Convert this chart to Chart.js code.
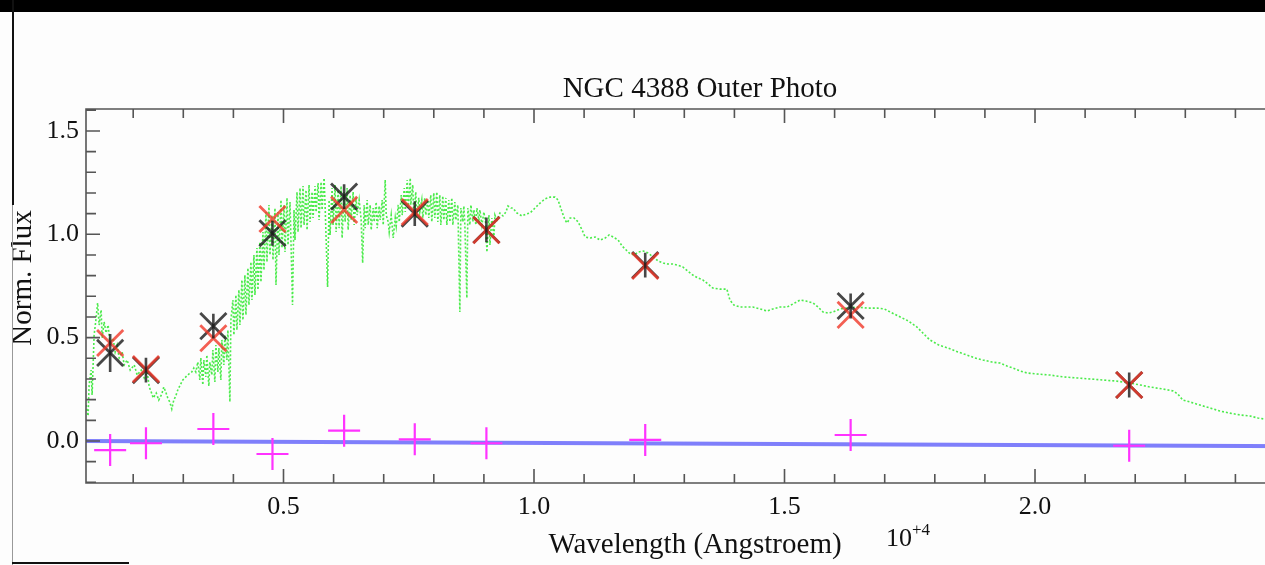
<!DOCTYPE html>
<html>
<head>
<meta charset="utf-8">
<title>NGC 4388 Outer Photo</title>
<script src="https://cdn.jsdelivr.net/npm/chart.js"></script>
<style>
  html, body { margin: 0; padding: 0; background: #fdfdfd; overflow: hidden; }
  #wrap { position: relative; width: 1265px; height: 565px; overflow: hidden; }
  #c { position: absolute; left: 0; top: 0; }
  .bar { position: absolute; left: 0; top: 0; width: 1265px; height: 12px; background: #000; z-index: 2; }
  .vline1 { position: absolute; left: 12px; top: 0; width: 2px; height: 205px; background: #111; z-index: 2; }
  .vline2 { position: absolute; left: 12px; top: 205px; width: 1px; height: 360px; background: #999; z-index: 2; }
  .hline { position: absolute; left: 12px; top: 562px; width: 117px; height: 2px; background: #111; z-index: 2; }
</style>
</head>
<body>
<div id="wrap">
  <canvas id="c" width="1400" height="565"></canvas>
  <div class="bar"></div>
  <div class="vline1"></div>
  <div class="vline2"></div>
  <div class="hline"></div>
</div>
<script>
// photometric bands (wavelength in 1e4 Angstroem)
var bandWave  = [0.154, 0.2255, 0.360, 0.478, 0.621, 0.762, 0.905, 1.222, 1.632, 2.188];
var obsFlux   = [0.426, 0.343, 0.556, 1.005, 1.182, 1.100, 1.021, 0.851, 0.653, 0.271];
var obsErr    = [0.092, 0.060, 0.060, 0.060, 0.060, 0.060, 0.060, 0.060, 0.060, 0.060];
var modelFlux = [0.474, 0.348, 0.497, 1.074, 1.118, 1.108, 1.020, 0.847, 0.610, 0.271];
var residFlux = [-0.044, -0.011, 0.058, -0.063, 0.050, 0.008, -0.011, 0.005, 0.029, -0.023];

// zero / fit line for the residuals
var fitWave = [0.10, 2.55];
var fitFlux = [0.000, -0.025];

// tick labels
var xMajor = [0.5, 1.0, 1.5, 2.0];
var yMajor = [0.0, 0.5, 1.0, 1.5];

// best fit model spectrum [wavelength, flux]
var spectrum = [
  [0.106,0.174],[0.110,0.121],[0.112,0.271],[0.116,0.343],[0.118,0.223],[0.122,0.513],[0.126,0.595],[0.129,0.668],[0.132,0.561],[0.136,0.634],
  [0.138,0.498],[0.142,0.576],[0.146,0.523],[0.150,0.561],[0.154,0.464],[0.160,0.498],[0.164,0.431],[0.168,0.464],[0.172,0.402],[0.178,0.431],
  [0.182,0.368],[0.188,0.392],[0.194,0.343],[0.202,0.368],[0.208,0.319],[0.216,0.343],[0.222,0.305],[0.228,0.334],[0.232,0.261],[0.236,0.237],
  [0.240,0.208],[0.246,0.232],[0.251,0.198],[0.257,0.227],[0.261,0.261],[0.265,0.237],[0.269,0.208],[0.273,0.189],[0.277,0.155],[0.281,0.198],
  [0.285,0.218],[0.289,0.247],[0.295,0.276],[0.299,0.295],[0.305,0.310],[0.311,0.324],[0.317,0.334],[0.321,0.353],[0.325,0.334],[0.329,0.382],
  [0.333,0.295],[0.335,0.402],[0.339,0.271],[0.341,0.392],[0.345,0.310],[0.347,0.416],[0.351,0.266],[0.353,0.382],[0.357,0.319],[0.359,0.440],
  [0.363,0.286],[0.365,0.464],[0.369,0.334],[0.371,0.450],[0.375,0.295],[0.377,0.489],[0.381,0.368],[0.383,0.513],[0.387,0.392],[0.389,0.537],
  [0.393,0.189],[0.395,0.585],[0.399,0.682],[0.401,0.513],[0.405,0.706],[0.407,0.537],[0.411,0.731],[0.413,0.561],[0.417,0.779],[0.419,0.585],
  [0.423,0.803],[0.425,0.610],[0.429,0.837],[0.431,0.658],[0.435,0.866],[0.437,0.682],[0.441,0.900],[0.443,0.706],[0.447,0.934],[0.449,0.731],
  [0.453,0.963],[0.455,0.769],[0.459,1.011],[0.461,0.827],[0.465,1.108],[0.467,0.866],[0.471,1.142],[0.473,0.900],[0.477,1.093],[0.479,0.876],
  [0.483,1.127],[0.485,0.755],[0.489,1.108],[0.491,0.900],[0.495,1.166],[0.497,0.934],[0.501,1.142],[0.503,0.914],[0.507,1.176],[0.509,0.948],
  [0.513,1.156],[0.518,0.658],[0.521,1.118],[0.523,0.972],[0.527,1.205],[0.529,1.011],[0.533,1.224],[0.535,1.030],[0.539,1.234],[0.541,1.045],
  [0.545,1.214],[0.547,1.021],[0.551,1.239],[0.553,1.060],[0.557,1.205],[0.559,1.079],[0.563,1.234],[0.565,1.108],[0.569,1.248],[0.571,1.069],
  [0.575,1.253],[0.577,1.118],[0.581,1.272],[0.583,1.142],[0.588,0.745],[0.591,1.166],[0.593,0.997],[0.597,1.224],[0.599,1.045],[0.603,1.239],
  [0.605,1.011],[0.609,1.214],[0.611,1.030],[0.615,1.234],[0.617,0.982],[0.621,1.205],[0.623,1.060],[0.627,1.224],[0.629,1.021],[0.633,1.190],
  [0.635,1.069],[0.639,1.205],[0.641,1.045],[0.645,1.176],[0.647,1.093],[0.651,1.166],[0.655,1.069],[0.658,0.861],[0.661,1.142],[0.663,1.030],
  [0.667,1.166],[0.669,1.045],[0.673,1.142],[0.675,1.021],[0.679,1.127],[0.681,1.060],[0.685,1.156],[0.687,1.030],[0.691,1.137],[0.693,1.069],
  [0.697,1.166],[0.699,1.045],[0.703,1.263],[0.705,1.093],[0.709,1.060],[0.711,1.011],[0.715,1.093],[0.719,0.982],[0.723,1.079],[0.725,1.040],
  [0.729,1.142],[0.731,1.060],[0.735,1.190],[0.737,1.093],[0.741,1.224],[0.743,1.108],[0.747,1.263],[0.749,1.127],[0.753,1.272],[0.754,1.142],
  [0.758,1.239],[0.760,1.093],[0.764,1.205],[0.766,1.079],[0.770,1.176],[0.772,1.108],[0.776,1.166],[0.778,1.079],[0.782,1.176],[0.784,1.093],
  [0.788,1.166],[0.790,1.079],[0.794,1.190],[0.796,1.060],[0.800,1.200],[0.802,1.079],[0.806,1.205],[0.808,1.060],[0.812,1.190],[0.814,1.045],
  [0.818,1.185],[0.820,1.069],[0.824,1.176],[0.826,1.045],[0.830,1.166],[0.832,1.060],[0.836,1.176],[0.838,1.045],[0.842,1.156],[0.844,1.069],
  [0.848,1.142],[0.852,0.624],[0.854,1.127],[0.858,1.060],[0.860,1.137],[0.862,1.045],[0.866,0.692],[0.868,1.127],[0.872,1.045],[0.874,1.142],
  [0.878,1.060],[0.880,1.118],[0.884,1.045],[0.886,1.127],[0.890,1.069],[0.892,1.118],[0.896,1.045],[0.900,1.108],[0.904,1.045],[0.906,0.914],
  [0.910,1.093],[0.912,0.948],[0.916,1.079],[0.920,0.982],[0.922,1.093],[0.926,1.069],[0.932,1.103],[0.938,1.089],[0.944,1.108],[0.948,1.137],
  [0.954,1.127],[0.958,1.127],[0.966,1.103],[0.976,1.089],[0.984,1.098],[0.992,1.103],[1.002,1.127],[1.012,1.151],[1.022,1.171],[1.032,1.180],
  [1.042,1.180],[1.048,1.166],[1.056,1.108],[1.062,1.069],[1.066,1.055],[1.072,1.079],[1.080,1.079],[1.088,1.060],[1.096,1.021],[1.102,0.987],
  [1.112,0.982],[1.122,0.987],[1.132,0.972],[1.142,0.982],[1.150,0.997],[1.158,0.987],[1.168,0.972],[1.176,0.943],[1.184,0.924],[1.192,0.905],
  [1.200,0.900],[1.208,0.914],[1.218,0.919],[1.228,0.909],[1.238,0.890],[1.248,0.871],[1.258,0.861],[1.267,0.856],[1.277,0.856],[1.287,0.851],
  [1.297,0.842],[1.307,0.822],[1.317,0.803],[1.327,0.789],[1.337,0.779],[1.347,0.760],[1.357,0.740],[1.371,0.735],[1.385,0.735],[1.391,0.682],
  [1.399,0.658],[1.411,0.648],[1.425,0.648],[1.437,0.648],[1.451,0.639],[1.465,0.629],[1.477,0.639],[1.491,0.648],[1.505,0.648],[1.517,0.663],
  [1.531,0.682],[1.543,0.677],[1.557,0.668],[1.567,0.648],[1.577,0.624],[1.587,0.619],[1.597,0.624],[1.611,0.639],[1.625,0.643],[1.645,0.648],
  [1.665,0.643],[1.685,0.643],[1.699,0.639],[1.711,0.624],[1.731,0.600],[1.747,0.581],[1.764,0.552],[1.778,0.518],[1.790,0.489],[1.808,0.464],
  [1.826,0.450],[1.846,0.431],[1.864,0.416],[1.880,0.402],[1.896,0.392],[1.914,0.382],[1.930,0.377],[1.944,0.363],[1.956,0.353],[1.970,0.339],
  [1.984,0.329],[2.004,0.324],[2.030,0.319],[2.056,0.310],[2.084,0.305],[2.110,0.300],[2.136,0.295],[2.162,0.290],[2.188,0.281],[2.210,0.271],
  [2.230,0.261],[2.254,0.252],[2.276,0.242],[2.285,0.227],[2.295,0.198],[2.309,0.189],[2.329,0.174],[2.349,0.160],[2.369,0.145],[2.389,0.135],
  [2.409,0.126],[2.429,0.121],[2.445,0.111],[2.469,0.102],[2.509,0.082],[2.537,0.068]
];

var FONT = "'Liberation Serif', 'Times New Roman', serif";
var INK = '#111';
var AXIS = '#555';

function pts(xs, ys) {
    return xs.map(function (x, i) { return {x: x, y: ys[i]}; });
}
function isIn(list, v) {
    return list.some(function (m) { return Math.abs(m - v) < 1e-6; });
}

// IDL style frame: box plus inward tick marks on all sides, and the loose texts
var frame = {
    id: 'frame',
    afterDraw: function (chart) {
        var ctx = chart.ctx, a = chart.chartArea, xs = chart.scales.x, ys = chart.scales.y;
        ctx.save();
        ctx.strokeStyle = AXIS;
        ctx.lineWidth = 1.6;
        ctx.beginPath();
        ctx.rect(a.left, a.top, a.right - a.left, a.bottom - a.top);
        xs.ticks.forEach(function (t) {
            var px = xs.getPixelForValue(t.value);
            var len = isIn(xMajor, t.value) ? 14 : 9;
            ctx.moveTo(px, a.bottom); ctx.lineTo(px, a.bottom - len);
            ctx.moveTo(px, a.top); ctx.lineTo(px, a.top + len);
        });
        ys.ticks.forEach(function (t) {
            var py = ys.getPixelForValue(t.value);
            var len = isIn(yMajor, t.value) ? 14 : 10;
            ctx.moveTo(a.left, py); ctx.lineTo(a.left + len, py);
            ctx.moveTo(a.right, py); ctx.lineTo(a.right - len, py);
        });
        ctx.stroke();

        ctx.fillStyle = INK;
        ctx.textBaseline = 'alphabetic';

        // plot title
        ctx.textAlign = 'center';
        ctx.font = "29px " + FONT;
        ctx.fillText('NGC 4388 Outer Photo', 700, 97);

        // y axis title
        ctx.translate(31, 278);
        ctx.rotate(-Math.PI / 2);
        ctx.fillText('Norm. Flux', 0, 0);
        ctx.setTransform(1, 0, 0, 1, 0, 0);

        // axis multiplier 10^+4
        ctx.textAlign = 'left';
        ctx.font = "26px " + FONT;
        ctx.fillText('10', 886, 546);
        ctx.font = "17px " + FONT;
        ctx.fillText('+4', 912, 535);
        ctx.restore();
    }
};

// vertical error bars of the observed fluxes
var errBars = {
    id: 'errBars',
    afterDatasetsDraw: function (chart) {
        var ctx = chart.ctx, xs = chart.scales.x, ys = chart.scales.y;
        ctx.save();
        ctx.strokeStyle = 'rgba(25,25,25,0.8)';
        ctx.lineWidth = 2.6;
        ctx.beginPath();
        bandWave.forEach(function (w, i) {
            var px = xs.getPixelForValue(w);
            ctx.moveTo(px, ys.getPixelForValue(obsFlux[i] - obsErr[i]));
            ctx.lineTo(px, ys.getPixelForValue(obsFlux[i] + obsErr[i]));
        });
        ctx.stroke();
        ctx.restore();
    }
};

new Chart(document.getElementById('c'), {
    type: 'scatter',
    data: {
        datasets: [
            {
                label: 'model spectrum',
                type: 'line',
                data: spectrum.map(function (p) { return {x: p[0], y: p[1]}; }),
                borderColor: 'rgba(30,230,30,0.8)',
                borderWidth: 1.6,
                borderDash: [2, 2],
                pointRadius: 0,
                tension: 0,
                fill: false,
                order: 5
            },
            {
                label: 'zero',
                type: 'line',
                data: pts(fitWave, fitFlux),
                borderColor: 'rgba(95,95,250,0.8)',
                borderWidth: 4,
                pointRadius: 0,
                fill: false,
                order: 4
            },
            {
                label: 'residuals',
                data: pts(bandWave, residFlux),
                pointStyle: 'cross',
                pointRadius: 16,
                borderWidth: 2.2,
                borderColor: '#ff33ff',
                order: 3
            },
            {
                label: 'observed',
                data: pts(bandWave, obsFlux),
                pointStyle: 'crossRot',
                pointRadius: 18.5,
                borderWidth: 2.8,
                borderColor: 'rgba(25,25,25,0.8)',
                order: 2
            },
            {
                label: 'model',
                data: pts(bandWave, modelFlux),
                pointStyle: 'crossRot',
                pointRadius: 18.5,
                borderWidth: 2.8,
                borderColor: 'rgba(240,55,40,0.8)',
                order: 1
            }
        ]
    },
    options: {
        responsive: false,
        animation: false,
        events: [],
        layout: {padding: {left: 0, right: 96, top: 109, bottom: 0}},
        plugins: {
            legend: {display: false},
            tooltip: {enabled: false},
            title: {display: false}
        },
        scales: {
            x: {
                type: 'linear',
                position: 'bottom',
                min: 0.1058,
                max: 2.5369,
                afterFit: function (s) { s.height = 82; },
                grid: {display: false, drawTicks: false},
                border: {display: false},
                ticks: {
                    stepSize: 0.1,
                    includeBounds: false,
                    autoSkip: false,
                    maxRotation: 0,
                    padding: 8.5,
                    color: INK,
                    font: {family: FONT, size: 26},
                    callback: function (v) { return isIn(xMajor, v) ? v.toFixed(1) : ''; }
                },
                title: {
                    display: true,
                    text: 'Wavelength (Angstroem)',
                    color: INK,
                    font: {family: FONT, size: 29},
                    padding: {top: 0, bottom: 2.4}
                }
            },
            y: {
                type: 'linear',
                position: 'left',
                min: -0.2032,
                max: 1.6062,
                afterFit: function (s) { s.width = 86; },
                grid: {display: false, drawTicks: false},
                border: {display: false},
                ticks: {
                    stepSize: 0.1,
                    includeBounds: false,
                    autoSkip: false,
                    padding: 7,
                    color: INK,
                    font: {family: FONT, size: 26},
                    callback: function (v) { return isIn(yMajor, v) ? v.toFixed(1) : ''; }
                }
            }
        }
    },
    plugins: [frame, errBars]
});
</script>
</body>
</html>
